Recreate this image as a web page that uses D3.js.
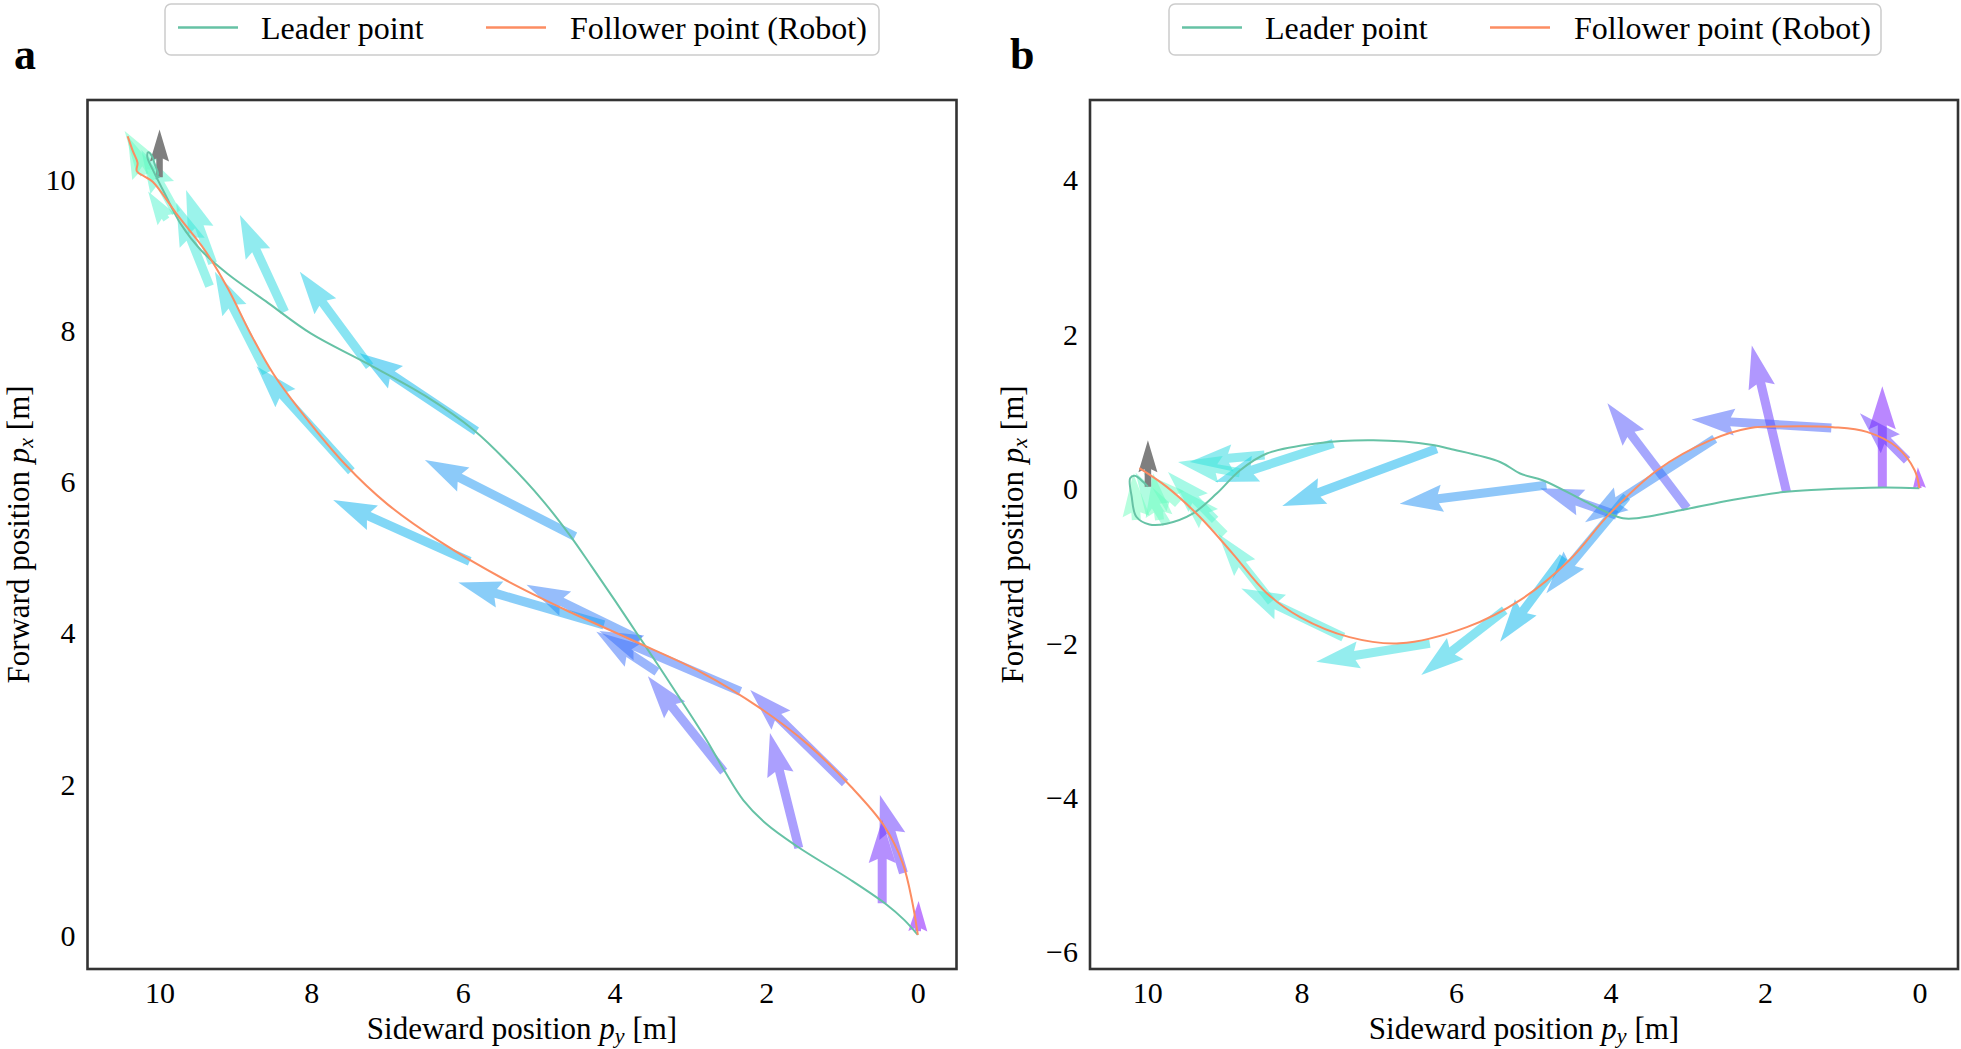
<!DOCTYPE html>
<html><head><meta charset="utf-8">
<script src="https://cdn.jsdelivr.net/npm/d3@7"></script>
<style>
body{margin:0;background:#fff}
svg{display:block}
</style>
</head><body>
<svg id="c" width="1961" height="1049"></svg>
<script>
// ---------- data ----------
const panelLetters = ["a", "b"];
const legendLabels = ["Leader point", "Follower point (Robot)"];
const xTicksA = [10, 8, 6, 4, 2, 0];
const yTicksA = [0, 2, 4, 6, 8, 10];
const xTicksB = [10, 8, 6, 4, 2, 0];
const yTicksB = [-6, -4, -2, 0, 2, 4];

// [sideward py, forward px]
const leaderA = [[0,0],[0.18,0.2],[0.41,0.40],[0.89,0.73],[1.59,1.17],[2.0,1.47],[2.3,1.78],[2.55,2.17],[2.8,2.6],[3.1,3.07],[3.4,3.53],[3.7,3.98],[4.0,4.43],[4.3,4.87],[4.6,5.3],[4.96,5.76],[5.4,6.24],[5.85,6.67],[6.5,7.13],[7.27,7.56],[8.0,7.95],[8.6,8.38],[9.1,8.74],[9.45,9.05],[9.72,9.4],[9.93,9.8],[10.08,10.1],[10.16,10.28],[10.15,10.35],[10.1,10.3],[10.06,10.18],[10.02,10.07],[10.04,10.0],[10.0,10.03]];
const followerA = [[0,0],[0.07,0.42],[0.2,0.95],[0.45,1.45],[0.88,1.96],[1.45,2.52],[2.08,3.0],[2.85,3.47],[3.75,3.89],[4.65,4.3],[5.45,4.7],[6.3,5.2],[7.0,5.7],[7.55,6.22],[8.15,6.94],[8.5,7.42],[8.8,7.95],[9.1,8.55],[9.4,9.05],[9.75,9.5],[10.09,9.96],[10.2,10.03],[10.3,10.1],[10.29,10.21],[10.35,10.36],[10.42,10.56]];
const leaderB = [[0,0],[0.47,0.01],[1.33,-0.02],[1.76,-0.05],[2.41,-0.15],[3.06,-0.28],[3.66,-0.39],[3.84,-0.39],[4.01,-0.33],[4.35,-0.16],[4.87,0.10],[5.17,0.19],[5.43,0.34],[6.08,0.51],[6.30,0.56],[7.07,0.62],[7.81,0.58],[8.45,0.45],[8.80,0.23],[9.10,-0.07],[9.41,-0.33],[9.75,-0.46],[9.97,-0.47],[10.14,-0.37],[10.20,-0.11],[10.22,0.13],[10.16,0.16],[10.05,0.08],[9.99,0.02]];
const followerB = [[0,0],[0.06,0.23],[0.29,0.53],[0.68,0.73],[1.12,0.79],[1.76,0.80],[2.19,0.78],[2.71,0.62],[3.40,0.23],[4.01,-0.33],[4.53,-0.93],[5.17,-1.45],[5.86,-1.80],[6.73,-2.01],[7.38,-1.93],[8.02,-1.67],[8.45,-1.36],[8.89,-0.85],[9.32,-0.37],[9.75,0.02],[10.10,0.26]];

// arrows: [tail py, tail px, tip py, tip px, colour value]
const arrowsA = [
 [0.0,0.05,-0.01,0.45,0.0],
 [0.47,0.42,0.47,1.52,0.04],
 [0.19,0.82,0.50,1.85,0.06],
 [1.57,1.15,1.95,2.67,0.08],
 [0.96,2.01,2.21,3.24,0.10],
 [2.56,2.16,3.56,3.42,0.11],
 [2.34,3.22,4.20,4.02,0.14],
 [3.44,3.48,4.24,4.01,0.14],
 [3.66,3.90,5.16,4.63,0.16],
 [4.52,5.27,6.50,6.28,0.20],
 [4.14,4.10,6.06,4.66,0.21],
 [5.91,4.94,7.71,5.75,0.24],
 [5.82,6.66,7.36,7.69,0.25],
 [7.47,6.13,8.72,7.52,0.28],
 [7.23,7.52,8.15,8.77,0.29],
 [8.59,7.43,9.27,8.77,0.32],
 [8.35,8.24,8.94,9.52,0.32],
 [9.34,8.58,9.78,9.68,0.36],
 [9.30,8.88,9.65,9.85,0.36],
 [9.91,9.46,10.15,9.83,0.40],
 [9.78,9.55,10.24,10.38,0.41],
 [10.2,10.05,10.42,10.56,0.44],
 [10.05,10.0,10.46,10.63,0.45]
];
const arrowsB = [
 [0.0,0.0,0.02,0.27,0.0],
 [0.48,0.01,0.48,1.32,0.02],
 [0.16,0.36,0.77,0.97,0.06],
 [1.72,-0.05,2.17,1.85,0.06],
 [3.01,-0.26,4.04,1.10,0.10],
 [1.14,0.78,2.95,0.89,0.12],
 [3.92,-0.35,4.91,0.0,0.13],
 [2.65,0.64,4.33,-0.44,0.17],
 [4.83,0.04,6.73,-0.20,0.19],
 [3.79,-0.11,4.83,-1.36,0.20],
 [6.25,0.51,8.25,-0.23,0.24],
 [4.61,-0.89,5.43,-1.99,0.25],
 [7.59,0.58,9.12,0.08,0.29],
 [5.37,-1.58,6.45,-2.42,0.29],
 [8.48,0.43,9.45,0.34,0.32],
 [6.34,-2.01,7.81,-2.25,0.33],
 [8.8,0.2,9.6,0.34,0.36],
 [7.46,-1.93,8.78,-1.30,0.36],
 [8.39,-1.47,9.08,-0.59,0.39],
 [9.12,-0.41,9.73,0.21,0.40],
 [9.0,-0.6,9.6,0.0,0.42],
 [9.75,-0.46,10.15,0.2,0.44],
 [9.6,-0.2,10.05,0.2,0.45],
 [9.84,-0.41,9.92,0.19,0.46],
 [10.14,-0.41,10.18,0.19,0.47]
];
// final heading arrow (grey)
const goalA = [10.0,10.02,10.0,10.65];
const goalB = [9.99,0.02,9.99,0.62];

// ---------- font pick (serif, Computer-Modern-like) ----------
function pickFont(list){
  const cv=document.createElement("canvas").getContext("2d");
  const s="Sideward position Follower 0123456789";
  const w=f=>{cv.font="40px "+f; return cv.measureText(s).width;};
  const wm=w("monospace"), ws=w("sans-serif");
  for(const f of list){ const a=w(`'${f}', monospace`), b=w(`'${f}', sans-serif`); if(a!==wm||b!==ws) return `'${f}'`; }
  return "serif";
}
const FONT = pickFont(["Liberation Serif","DejaVu Serif","Noto Serif","Times New Roman","FreeSerif","Nimbus Roman","Tinos"]) + ", serif";

// ---------- drawing ----------
const svg = d3.select("#c").attr("font-family", FONT);
const LEADER = "#66c2a5", FOLLOWER = "#fc8d62";

function rainbow(c){
  const r = Math.min(1, Math.abs(2*c-0.5)), g = Math.sin(Math.PI*c), b = Math.cos(Math.PI*c/2);
  return d3.rgb(r*255, g*255, b*255).formatHex();
}

function arrowPath(x0,y0,x1,y1,w,hw,hl,hal){
  const dx=x1-x0, dy=y1-y0, L=Math.hypot(dx,dy);
  if (L<0.5) return "";
  let s=1; if (L<hl){ s=L/hl; }
  w*=s; hw*=s; hl*=s; hal*=s;
  const ux=dx/L, uy=dy/L, nx=-uy, ny=ux;
  const P=(a,t)=>[x0+ux*a+nx*t, y0+uy*a+ny*t];
  const pts=[P(0,w/2),P(L-hal,w/2),P(L-hl,hw/2),P(L,0),P(L-hl,-hw/2),P(L-hal,-w/2),P(0,-w/2)];
  return "M"+pts.map(p=>p[0].toFixed(2)+","+p[1].toFixed(2)).join("L")+"Z";
}

function panel(cfg){
  const g = svg.append("g");
  const x = d3.scaleLinear().domain(cfg.xDom).range([cfg.left, cfg.right]);
  const y = d3.scaleLinear().domain(cfg.yDom).range([cfg.bottom, cfg.top]);

  // arrows
  g.append("g").selectAll("path").data(cfg.arrows).join("path")
    .attr("d", d=>arrowPath(x(d[0]),y(d[1]),x(d[2]),y(d[3]),9,27,43,39))
    .attr("fill", d=>rainbow(d[4])).attr("fill-opacity",0.5);
  g.append("path")
    .attr("d", arrowPath(x(cfg.goal[0]),y(cfg.goal[1]),x(cfg.goal[2]),y(cfg.goal[3]),6.5,19,32,29))
    .attr("fill","#7f7f7f");

  // lines
  const line = d3.line().x(d=>x(d[0])).y(d=>y(d[1])).curve(d3.curveCatmullRom.alpha(0.5));
  g.append("path").attr("d", line(cfg.leader)).attr("fill","none").attr("stroke",LEADER).attr("stroke-width",2);
  g.append("path").attr("d", line(cfg.follower)).attr("fill","none").attr("stroke",FOLLOWER).attr("stroke-width",2);

  // frame
  g.append("rect").attr("x",cfg.left).attr("y",cfg.top).attr("width",cfg.right-cfg.left).attr("height",cfg.bottom-cfg.top)
    .attr("fill","none").attr("stroke","#333").attr("stroke-width",2.6);

  // axes (tick labels only)
  const fmt = d=>d<0?"\u2212"+Math.abs(d):""+d;
  const xa = d3.axisBottom(x).tickValues(cfg.xTicks).tickSize(0).tickPadding(0).tickFormat(fmt);
  const gx = g.append("g").attr("transform",`translate(0,${cfg.bottom})`).call(xa).attr("font-family",FONT);
  gx.select(".domain").remove();
  gx.selectAll("text").attr("y",23).attr("dy","0.35em").attr("font-size",30).attr("fill","#000");
  const ya = d3.axisLeft(y).tickValues(cfg.yTicks).tickSize(0).tickPadding(0).tickFormat(fmt);
  const gy = g.append("g").attr("transform",`translate(${cfg.left},0)`).call(ya).attr("font-family",FONT);
  gy.select(".domain").remove();
  gy.selectAll("text").attr("x",-12).attr("dy","0.35em").attr("font-size",30).attr("fill","#000");

  // axis labels
  const xl = g.append("text").attr("x",(cfg.left+cfg.right)/2).attr("y",1039).attr("text-anchor","middle").attr("font-size",31);
  xl.append("tspan").text("Sideward position ");
  xl.append("tspan").attr("font-style","italic").text("p");
  xl.append("tspan").attr("font-style","italic").attr("font-size",22).attr("dy",4).text("y");
  xl.append("tspan").attr("dy",-4).text(" [m]");
  const yl = g.append("text").attr("transform",`translate(${cfg.ylabX},${(cfg.top+cfg.bottom)/2}) rotate(-90)`).attr("text-anchor","middle").attr("font-size",31);
  yl.append("tspan").text("Forward position ");
  yl.append("tspan").attr("font-style","italic").text("p");
  yl.append("tspan").attr("font-style","italic").attr("font-size",22).attr("dy",4).text("x");
  yl.append("tspan").attr("dy",-4).text(" [m]");

  // panel letter
  g.append("text").attr("x",cfg.letterX).attr("y",69).attr("font-size",44).attr("font-weight","bold").text(cfg.letter);

  // legend
  const lg = g.append("g");
  lg.append("rect").attr("x",cfg.legX).attr("y",4).attr("width",cfg.legW).attr("height",51).attr("rx",6)
    .attr("fill","#fff").attr("fill-opacity",0.85).attr("stroke","#cccccc").attr("stroke-width",1.5);
  const items = [{c:LEADER, t:legendLabels[0], lx:cfg.legX+13, tx:cfg.legX+96},{c:FOLLOWER, t:legendLabels[1], lx:cfg.legX+321, tx:cfg.legX+405}];
  items.forEach(it=>{
    lg.append("line").attr("x1",it.lx).attr("x2",it.lx+60).attr("y1",27.5).attr("y2",27.5).attr("stroke",it.c).attr("stroke-width",2.5);
    lg.append("text").attr("x",it.tx).attr("y",39).attr("font-size",32).text(it.t);
  });
}

panel({left:87.5,right:956.5,top:100,bottom:969,xDom:[10.95,-0.51],yDom:[-0.45,11.04],
  xTicks:xTicksA,yTicks:yTicksA,arrows:arrowsA,goal:goalA,leader:leaderA,follower:followerA,
  ylabX:29,letter:panelLetters[0],letterX:14,legX:165,legW:714});
panel({left:1090,right:1958,top:100,bottom:969,xDom:[10.74,-0.50],yDom:[-6.23,5.03],
  xTicks:xTicksB,yTicks:yTicksB,arrows:arrowsB,goal:goalB,leader:leaderB,follower:followerB,
  ylabX:1023,letter:panelLetters[1],letterX:1010,legX:1169,legW:712});
</script>
</body></html>
